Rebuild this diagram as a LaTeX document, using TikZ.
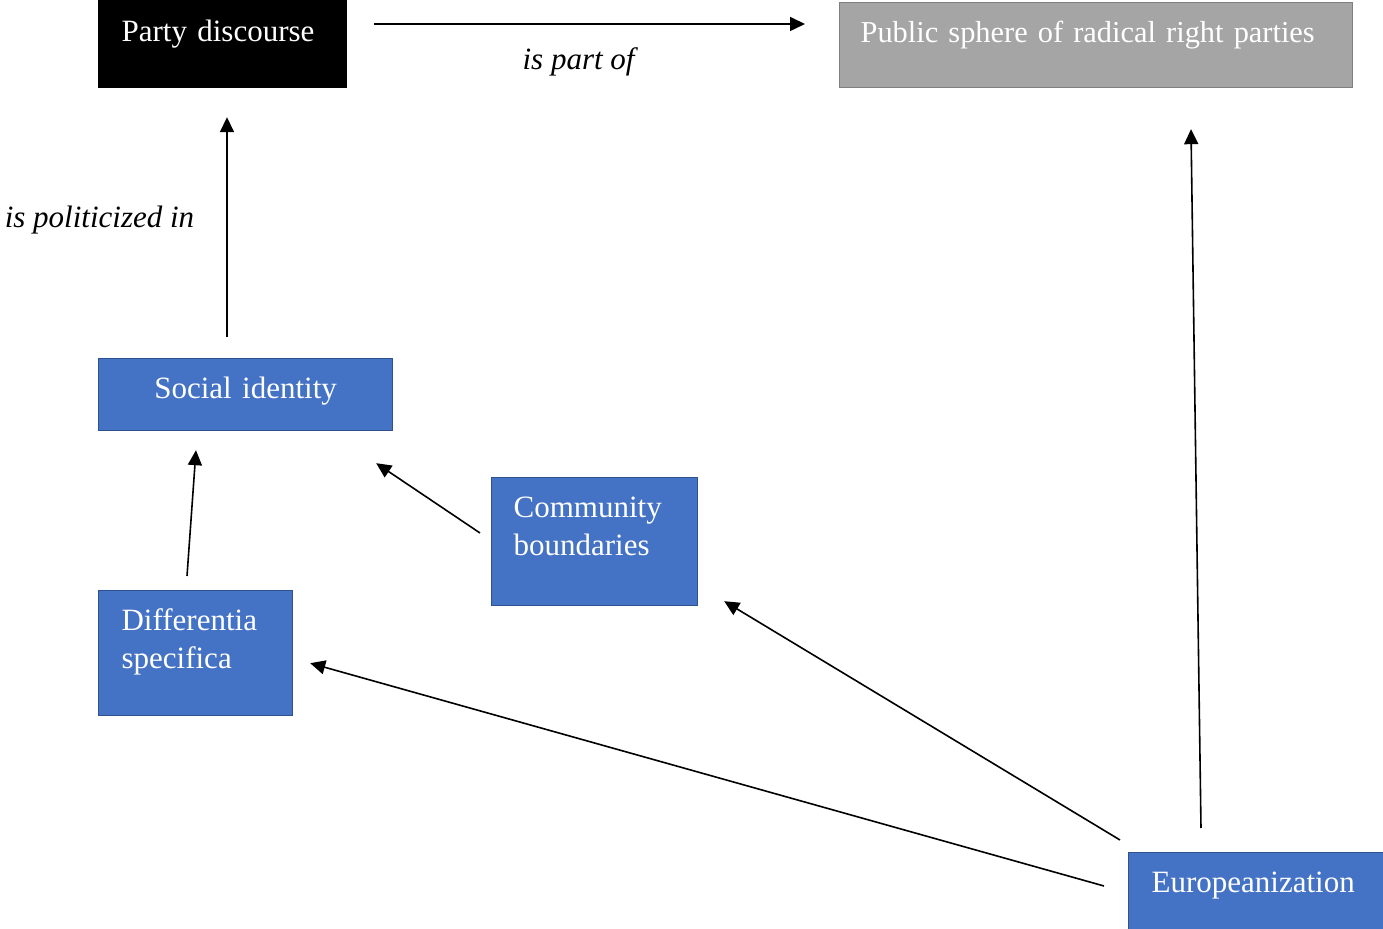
\documentclass[tikz,border=0pt]{standalone}
\usepackage{fontspec}
\setmainfont{Liberation Serif}
\usetikzlibrary{arrows.meta,calc}
\definecolor{boxblue}{HTML}{4472C4}
\definecolor{boxblueline}{HTML}{2F528F}
\definecolor{boxgray}{HTML}{A5A5A5}
\definecolor{boxgrayline}{HTML}{7F7F7F}
\tikzset{
    concept/.style={
        anchor=north west,
        inner ysep=0pt,
        inner xsep=11.5pt,
        align=left,
        text=white,
        line width=0.6pt,
        font=\fontsize{15.5}{19}\selectfont
    },
    bluebox/.style={concept, fill=boxblue, draw=boxblueline},
    link/.style={
        line width=0.8pt,
        -{Triangle[length=7.5pt,width=7pt]}
    },
    linklabel/.style={
        font=\fontsize{15.5}{19}\selectfont\itshape,
        inner sep=0pt
    }
}
\begin{document}
\begin{tikzpicture}[x=0.5pt,y=-0.5pt]
                \useasboundingbox (0,0) rectangle (1383,929);
                \node[concept, fill=black, draw=black, text width=101pt,
                    text height=20.5pt, text depth=23pt] (party) at (98,0) {Party discourse};
                \node[concept, fill=boxgray, draw=boxgrayline, inner xsep=10.5pt, text width=235.5pt,
                    text height=20pt, text depth=22.5pt,
                    font=\fontsize{15.2}{19}\selectfont] (public) at (839,2) {Public sphere of radical right parties};
                \node[bluebox, align=center, inner xsep=10pt, text width=127pt,
                    text height=20pt, text depth=16pt] (social) at (98,358) {Social identity};
                \node[bluebox, inner xsep=11pt, text width=81pt,
                    text height=20pt, text depth=44pt] (community) at (491,477) {Community\\boundaries};
                \node[bluebox, text width=74pt,
                    text height=20pt, text depth=42.5pt] (differentia) at (98,590) {Differentia\\specifica};
                \node[bluebox, text width=104.5pt,
                    text height=20pt, text depth=18.5pt] (europe) at (1128,852) {Europeanization};
                \draw[link] ($(party.north east)+(27,24)$) -- ($(public.north west)+(-34,22)$)
                    node[linklabel, midway, anchor=base, yshift=-23pt, xshift=-5.5pt] (partof) {is part of};
                \draw[link] ($(social.north west)+(129,-21)$) -- ($(party.south west)+(129,29)$)
                    node[linklabel, midway, anchor=base east, xshift=-16pt] (politicized) {is politicized in};
                \draw[link] ($(differentia.north west)+(89,-14)$) -- ($(social.south west)+(98,19)$);
                \draw[link] ($(community.north west)+(-11,56)$) -- ($(social.south east)+(-17,32)$);
                \draw[link] ($(europe.north west)+(-8,-12)$) -- ($(community.south east)+(26,-5)$);
                \draw[link] ($(europe.north west)+(-24,34)$) -- ($(differentia.south east)+(17,-53)$);
                \draw[link] ($(europe.north west)+(73,-24)$) -- ($(public.south west)+(352,41)$);
            \end{tikzpicture}
\end{document}
